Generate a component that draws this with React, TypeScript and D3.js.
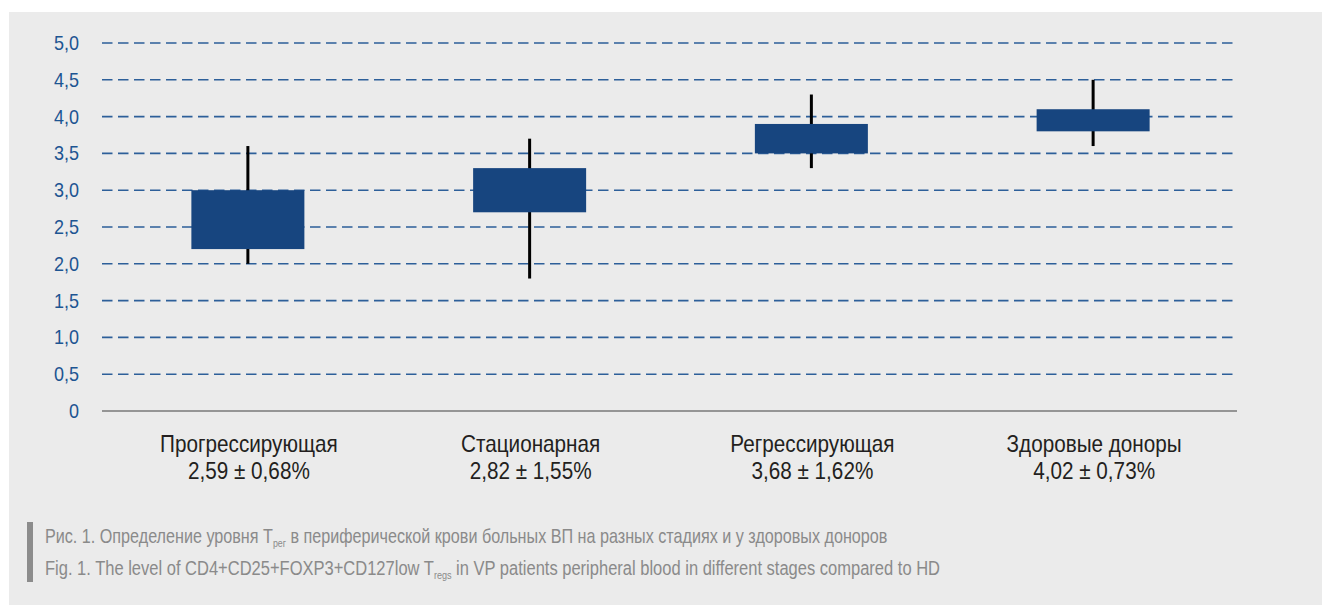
import React from "react";
import * as d3 from "d3";

const categories = ["Прогрессирующая", "Стационарная", "Регрессирующая", "Здоровые доноры"];
const statLabels = ["2,59 ± 0,68%", "2,82 ± 1,55%", "3,68 ± 1,62%", "4,02 ± 0,73%"];
const boxLow = [2.2, 2.7, 3.5, 3.8];
const boxHigh = [3.0, 3.3, 3.9, 4.1];
const whiskerLow = [2.0, 1.8, 3.3, 3.6];
const whiskerHigh = [3.6, 3.7, 4.3, 4.5];
const yTicks = [0, 0.5, 1, 1.5, 2, 2.5, 3, 3.5, 4, 4.5, 5];

const W = 1322;
const H = 605;
const FONT = "'Liberation Sans', Arial, sans-serif";

function CText(props: { x: number; y: number; k: number; anchor?: string; size: number; fill: string; children: React.ReactNode }) {
  const { x, y, k, anchor, size, fill, children } = props;
  return (
    <text transform={`translate(${x},${y}) scale(${k},1)`} textAnchor={anchor || "start"} fontSize={size} fill={fill}>
      {children}
    </text>
  );
}

export default function App() {
  const x = d3.scaleBand<string>().domain(categories).range([107, 1234]).paddingInner(0).paddingOuter(0);
  const y = d3.scaleLinear().domain([0, 5]).range([411, 43]);
  const boxW = 113;
  const fmt = (v: number) => (v === 0 ? "0" : d3.format(".1f")(v).replace(".", ","));

  return (
    <svg width={W} height={H} style={{ position: "absolute", left: 0, top: 0 }} fontFamily={FONT}>
      <rect x={0} y={0} width={W} height={H} fill="#ffffff" />
      <rect x={9} y={12} width={W - 9} height={H - 12} fill="#ebebeb" />
      {yTicks.filter((t) => t > 0).map((t) => (
        <line key={"g" + t} x1={102} x2={1234} y1={y(t)} y2={y(t)} stroke="#2d5f99" strokeWidth={1.6} strokeDasharray="10.5 5.5" />
      ))}
      <line x1={102} x2={1237} y1={y(0)} y2={y(0)} stroke="#959595" strokeWidth={2.2} />
      {yTicks.map((t) => (
        <CText key={"t" + t} x={79} y={y(t) + 7} k={0.9} anchor="end" size={20} fill="#1d5592">
          {fmt(t)}
        </CText>
      ))}
      {categories.map((c, i) => {
        const cx = (x(c) as number) + x.bandwidth() / 2;
        return (
          <g key={c}>
            <line x1={cx} x2={cx} y1={y(whiskerHigh[i])} y2={y(whiskerLow[i])} stroke="#000" strokeWidth={3} />
            <rect x={cx - boxW / 2} y={y(boxHigh[i])} width={boxW} height={y(boxLow[i]) - y(boxHigh[i])} fill="#17457f" />
            <CText x={cx + 1} y={452} k={0.9} anchor="middle" size={23} fill="#231f20">{c}</CText>
            <CText x={cx + 1} y={479} k={0.9} anchor="middle" size={23} fill="#231f20">{statLabels[i]}</CText>
          </g>
        );
      })}
      <rect x={27} y={522} width={6} height={60} fill="#8c8c8c" />
      <CText x={45} y={543} k={0.808} size={20} fill="#8a8a8a">
        Рис. 1. Определение уровня T<tspan fontSize={11} dy={4}>рег</tspan>
        <tspan dy={-4}> в периферической крови больных ВП на разных стадиях и у здоровых доноров</tspan>
      </CText>
      <CText x={45} y={575} k={0.826} size={20} fill="#8a8a8a">
        Fig. 1. The level of CD4+CD25+FOXP3+CD127low T<tspan fontSize={11} dy={4}>regs</tspan>
        <tspan dy={-4}> in VP patients peripheral blood in different stages compared to HD</tspan>
      </CText>
    </svg>
  );
}
